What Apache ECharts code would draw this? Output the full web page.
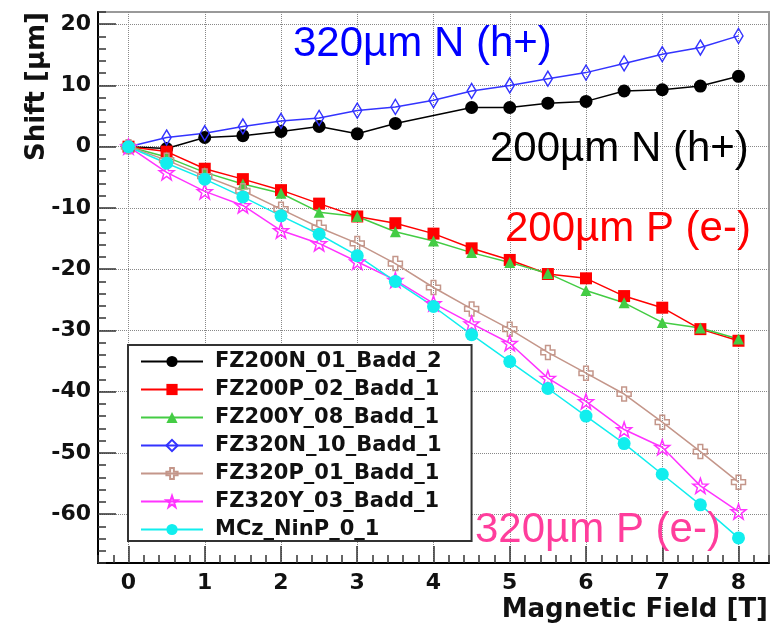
<!DOCTYPE html>
<html>
<head>
<meta charset="utf-8">
<script src="https://cdn.jsdelivr.net/npm/echarts@6/dist/echarts.min.js"></script>
<style>
  html, body { margin: 0; padding: 0; background: #ffffff; }
  #chart { width: 778px; height: 626px; }
</style>
</head>
<body>
<div id="chart"></div>
<script>
// Magnetic field steps [T]
const fieldT = [0, 0.5, 1, 1.5, 2, 2.5, 3, 3.5, 4, 4.5, 5, 5.5, 6, 6.5, 7, 7.5, 8];

// Measured shift [µm] per sensor (null = no measurement)
const fz200N = [0, -0.3, 1.5, 1.8, 2.5, 3.3, 2.1, 3.8, null, 6.4, 6.4, 7.1, 7.4, 9.1, 9.3, 9.9, 11.5];
const fz200P = [0, -0.8, -3.6, -5.3, -7.1, -9.3, -11.4, -12.5, -14.2, -16.6, -18.5, -20.8, -21.5, -24.4, -26.3, -29.8, -31.7];
const fz200Y = [0, -1.7, -4.2, -6.1, -7.6, -10.7, -11.4, -13.9, -15.4, -17.3, -18.9, -20.7, -23.5, -25.5, -28.7, -29.6, -31.4];
const fz320N = [0, 1.5, 2.2, 3.3, 4.2, 4.7, 5.9, 6.5, 7.6, 9.1, 10.0, 11.1, 12.1, 13.6, 15.1, 16.2, 18.1];
const fz320P = [0, -2.2, -4.8, -7.2, -10.2, -13.2, -15.8, -19.1, -23.0, -26.5, -29.8, -33.6, -37.0, -40.4, -45.0, -49.8, -54.8];
const fz320Y = [0, -4.2, -7.3, -9.6, -13.7, -15.8, -18.8, -21.8, -25.6, -28.9, -32.1, -37.8, -41.6, -46.2, -49.1, -55.4, -59.6];
const mczNinP = [0, -2.7, -5.3, -8.2, -11.3, -14.3, -17.8, -22.0, -26.1, -30.7, -35.1, -39.5, -44.0, -48.5, -53.5, -58.5, -63.9];

const seriesNames = ['FZ200N_01_Badd_2', 'FZ200P_02_Badd_1', 'FZ200Y_08_Badd_1',
  'FZ320N_10_Badd_1', 'FZ320P_01_Badd_1', 'FZ320Y_03_Badd_1', 'MCz_NinP_0_1'];
const seriesValues = [fz200N, fz200P, fz200Y, fz320N, fz320P, fz320Y, mczNinP];

// Axis tick labels
const xTickValues = [0, 1, 2, 3, 4, 5, 6, 7, 8];
const yTickValues = [-60, -50, -40, -30, -20, -10, 0, 10, 20];

// Group annotations
const annotationTexts = ['320µm N (h+)', '200µm N (h+)', '200µm P (e-)', '320µm P (e-)'];

// ---- styling ----
const BOLD = 'DejaVu Sans';
const OPEN_CROSS = 'path://M-1,-3L1,-3L1,-1L3,-1L3,1L1,1L1,3L-1,3L-1,1L-3,1L-3,-1L-1,-1Z';
const OPEN_STAR = 'path://M0,-10L2.35,-3.24L9.51,-3.09L3.8,1.24L5.88,8.09L0,4L-5.88,8.09L-3.8,1.24L-9.51,-3.09L-2.35,-3.24Z';

const markerStyles = [
  { color: '#000000', symbol: 'circle', size: 13, open: false },
  { color: '#ff0000', symbol: 'rect', size: 12, open: false },
  { color: '#44cc44', symbol: 'triangle', size: 11, open: false },
  { color: '#3333ff', symbol: 'diamond', size: [9, 15], open: true },
  { color: '#c4968a', symbol: OPEN_CROSS, size: 14, open: true },
  { color: '#ff33ff', symbol: OPEN_STAR, size: 15, open: true },
  { color: '#11eeee', symbol: 'circle', size: 13, open: false }
];

function pairs(values) {
  const out = [];
  values.forEach((v, i) => { if (v !== null) out.push([fieldT[i], v]); });
  return out;
}

const series = seriesNames.map((name, i) => {
  const m = markerStyles[i];
  return {
    name: name,
    type: 'line',
    xAxisIndex: 0,
    yAxisIndex: 0,
    data: pairs(seriesValues[i]),
    symbol: m.symbol,
    symbolSize: m.size,
    showAllSymbol: true,
    lineStyle: { color: m.color, width: 1.5 },
    itemStyle: m.open
      ? { color: 'rgba(255,255,255,0)', borderColor: m.color, borderWidth: 1.5 }
      : { color: m.color, borderWidth: 0 },
    emphasis: { disabled: true }
  };
});

const tickLabelStyle = { fontFamily: BOLD, fontWeight: 'bold', fontSize: 22, color: '#111' };
const gridLine = { show: true, lineStyle: { type: 'dotted', color: '#888', width: 1 } };

const annotationPlacement = [
  { x: 293, y: 44, color: '#0000ff' },
  { x: 490, y: 149, color: '#000000' },
  { x: 505, y: 229, color: '#ff0000' },
  { x: 475, y: 530, color: '#ff3d9c' }
];

const chart = echarts.init(document.getElementById('chart'), null, { renderer: 'canvas' });
chart.setOption({
  backgroundColor: '#ffffff',
  animation: false,
  grid: {
    left: 98, right: 9, top: 12, bottom: 63,
    show: true, borderColor: '#999', borderWidth: 2, backgroundColor: '#ffffff'
  },
  xAxis: [
    {
      type: 'value', min: -0.4, max: 8.4, position: 'bottom',
      axisLine: { show: true, onZero: false, lineStyle: { color: '#000', width: 2 } },
      axisTick: { show: true, inside: true, length: 17, customValues: xTickValues, lineStyle: { color: '#333', width: 1.5 } },
      axisLabel: Object.assign({ customValues: xTickValues, margin: 9 }, tickLabelStyle),
      splitLine: gridLine,
      name: 'Magnetic Field [T]',
      nameLocation: 'end',
      nameGap: -1,
      nameTextStyle: { fontFamily: BOLD, fontWeight: 'bold', fontSize: 26, color: '#111',
        align: 'right', verticalAlign: 'top', padding: [34, 0, 0, 0] }
    },
    {
      // minor ticks every 0.2 T
      type: 'value', min: -0.4, max: 8.4, interval: 0.2, position: 'bottom',
      axisLine: { show: false, onZero: false },
      axisTick: { show: true, inside: true, length: 8, lineStyle: { color: '#333', width: 1.5 } },
      axisLabel: { show: false },
      splitLine: { show: false }
    }
  ],
  yAxis: [
    {
      type: 'value', min: -68, max: 22, position: 'left',
      axisLine: { show: true, onZero: false, lineStyle: { color: '#000', width: 2 } },
      axisTick: { show: true, inside: true, length: 18, customValues: yTickValues, lineStyle: { color: '#333', width: 1.5 } },
      axisLabel: Object.assign({ customValues: yTickValues, margin: 7 }, tickLabelStyle),
      splitLine: gridLine,
      name: 'Shift [µm]',
      nameLocation: 'end',
      nameRotate: 90,
      nameGap: 0,
      nameTextStyle: { fontFamily: BOLD, fontWeight: 'bold', fontSize: 26, color: '#111',
        align: 'right', verticalAlign: 'bottom', padding: [0, 0, 48, 0] }
    },
    {
      // minor ticks every 2 µm
      type: 'value', min: -68, max: 22, interval: 2, position: 'left',
      axisLine: { show: false, onZero: false },
      axisTick: { show: true, inside: true, length: 8, lineStyle: { color: '#333', width: 1.5 } },
      axisLabel: { show: false },
      splitLine: { show: false }
    }
  ],
  legend: {
    orient: 'vertical',
    left: 128, top: 345,
    padding: [6, 30, 1, 12],
    itemWidth: 62, itemHeight: 14, itemGap: 7,
    backgroundColor: '#ffffff', borderColor: '#333', borderWidth: 2,
    textStyle: { fontFamily: BOLD, fontWeight: 'bold', fontSize: 21, color: '#111', padding: [0, 0, 0, 7] },
    data: seriesNames
  },
  graphic: annotationTexts.map((t, i) => ({
    type: 'text',
    x: annotationPlacement[i].x,
    y: annotationPlacement[i].y,
    z: 100,
    style: {
      text: t,
      fill: annotationPlacement[i].color,
      font: '42px "Liberation Sans", Arial, sans-serif',
      textAlign: 'left', textVerticalAlign: 'middle',
      align: 'left', verticalAlign: 'middle'
    }
  })),
  series: series
});
</script>
</body>
</html>
